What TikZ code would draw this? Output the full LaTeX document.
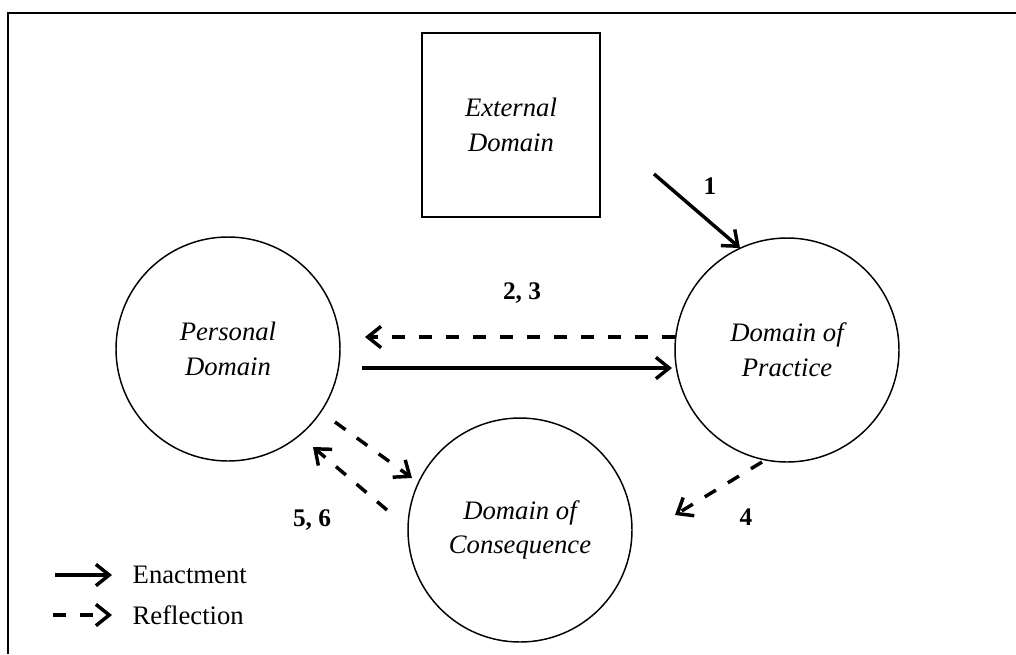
\documentclass[tikz,border=0pt]{standalone}
\usepackage{fontspec}
\setmainfont{Liberation Serif}
\usetikzlibrary{arrows.meta}
\tikzset{
  domcircle/.style={circle, draw, line width=1.1pt, minimum size=168pt, inner sep=0pt,
    align=center, font=\fontsize{20}{26}\selectfont\itshape},
  extbox/.style={draw, line width=1.5pt, minimum width=133.5pt, minimum height=138pt,
    inner sep=0pt, align=center, font=\fontsize{20}{26}\selectfont\itshape},
  num/.style={font=\fontsize{19}{22}\selectfont\bfseries},
  legtext/.style={anchor=west, font=\fontsize{20}{22}\selectfont},
  enact/.style={line width=2.6pt, -{Straight Barb[length=10pt,width=16pt]}},
  reflect/.style={enact, dash pattern=on 9.75pt off 10.5pt},
}
\begin{document}
\begin{tikzpicture}[x=0.75pt,y=-0.75pt]
\useasboundingbox (0,0) rectangle (1016,654);
% frame
\draw[line width=1.7pt] (8,654) -- (8,13) -- (1016,13);

% domains
\node[extbox] (ext) at (511,125) {External\\Domain};
\node[domcircle] (pd) at (228,349) {Personal\\Domain};
\node[domcircle] (dp) at (787,350) {Domain of\\Practice};
\node[domcircle] (dc) at (520,530) {Domain of\\Consequence};

% connectors
\draw[enact] ([shift={(53,-44)}]ext.south east) -- ([shift={(-47,-102)}]dp.center);
\draw[reflect] ([shift={(-112,-13)}]dp.center) -- ([shift={(137,-12)}]pd.center);
\draw[enact] ([shift={(134,19)}]pd.center) -- ([shift={(-115,18)}]dp.center);
\draw[reflect] ([shift={(-25,112)}]dp.center) -- ([shift={(155,-15)}]dc.center);
\draw[reflect] ([shift={(107,73)}]pd.center) -- ([shift={(-108,-52)}]dc.center);
\draw[reflect] ([shift={(-133,-20)}]dc.center) -- ([shift={(85,98)}]pd.center);

% labels
\node[num] (n1) at (710,186) {1};
\node[num] (n23) at (522,293) {2, 3};
\node[num] (n4) at (746,517) {4};
\node[num] (n56) at (312,520) {5, 6};

% legend
\coordinate (le1) at (55,575);
\coordinate (le2) at (112,575);
\coordinate (lr1) at (53,615);
\coordinate (lr2) at (112,615);
\draw[enact] (le1) -- (le2);
\draw[reflect] (lr1) -- (lr2);
\node[legtext] (lenact) at (128,575) {Enactment};
\node[legtext] (lrefl) at (128,615) {Reflection};
\end{tikzpicture}
\end{document}
